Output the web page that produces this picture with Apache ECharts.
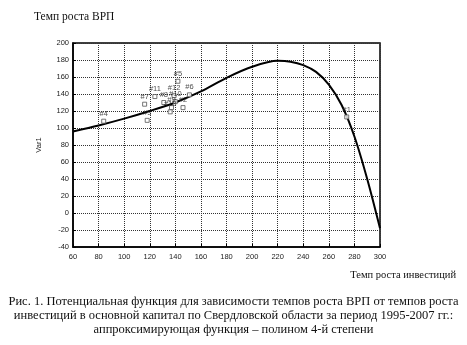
<!DOCTYPE html>
<html><head><meta charset="utf-8">
<script src="https://cdn.jsdelivr.net/npm/echarts@6/dist/echarts.min.js"></script>
<style>html,body{margin:0;padding:0;background:#fff}#c{width:467px;height:345px}</style>
</head><body><div id="c"></div>
<script>
// observed points (investment growth, GRP growth)
var pointLabels = ['#1','#2','#3','#4','#5','#6','#7','#8','#9','#10','#11','#12','#13'];
var pointX = [274,146,118,84,142,151,116,131,137,140,124,139,136];
var pointY = [113,124,109,108,155,139,128,130,124,131,137,138,119];
// approximating 4th-degree polynomial curve
var curveX = [60,80,100,120,140,160,180,200,220,230,240,250,260,270,280,290,300];
var curveY = [96,103,111,120,130,143,159,172,179,178,174,166,151,127,90,40,-18];
var xTicks = [60,300,20];
var yTicks = [-40,200,20];

var chart = echarts.init(document.getElementById('c'));
var scatter = pointX.map(function(x,i){return [x,pointY[i],pointLabels[i]];});
var line = curveX.map(function(x,i){return [x,curveY[i]];});
var sans = 'Liberation Sans', serif = 'Liberation Serif';
var caption = 'Рис. 1. Потенциальная функция для зависимости темпов роста ВРП от темпов роста\nинвестиций в основной капитал по Свердловской области за период 1995-2007 гг.:\nаппроксимирующая функция – полином 4-й степени';
chart.setOption({
  animation:false,
  backgroundColor:'#fff',
  title:[
    {text:'Темп роста ВРП',left:29,top:6,textStyle:{fontFamily:serif,fontSize:11.5,fontWeight:'normal',color:'#111'}},
    {text:'Темп роста инвестиций',right:6,top:265,textStyle:{fontFamily:serif,fontSize:10.5,fontWeight:'normal',color:'#111'}}
  ],
  graphic:[{type:'text',left:'center',top:295,style:{text:caption,textAlign:'center',font:'12.5px "Liberation Serif"',fill:'#111',lineHeight:14}}],
  grid:{left:73,right:87,top:43,bottom:98,show:true,borderColor:'#000',borderWidth:1.5},
  xAxis:{type:'value',min:xTicks[0],max:xTicks[1],interval:xTicks[2],
    axisLine:{show:true,onZero:false,lineStyle:{color:'#000',width:1.5}},
    axisTick:{show:true,inside:true,length:3,lineStyle:{color:'#000'}},
    axisLabel:{fontFamily:sans,fontSize:7.5,color:'#222',margin:6},
    splitLine:{show:true,lineStyle:{color:'#333',type:[1,1],width:1}}},
  yAxis:{type:'value',min:yTicks[0],max:yTicks[1],interval:yTicks[2],name:'Var1',nameLocation:'middle',nameGap:30,
    nameTextStyle:{fontFamily:sans,fontSize:7.5,color:'#222'},
    axisLine:{show:true,onZero:false,lineStyle:{color:'#000',width:1.5}},
    axisTick:{show:true,inside:true,length:3,lineStyle:{color:'#000'}},
    axisLabel:{fontFamily:sans,fontSize:7.5,color:'#222',margin:4},
    splitLine:{show:true,lineStyle:{color:'#333',type:[1,1],width:1}}},
  series:[
    {type:'line',data:line,smooth:0.3,symbol:'none',lineStyle:{color:'#000',width:2},z:3},
    {type:'scatter',data:scatter,symbol:'rect',symbolSize:4,
     itemStyle:{color:'#fff',borderColor:'#555',borderWidth:1},
     label:{show:true,position:'top',distance:1,formatter:function(p){return p.data[2];},fontFamily:sans,fontSize:7.5,color:'#222'},z:4}
  ]
});
</script></body></html>
